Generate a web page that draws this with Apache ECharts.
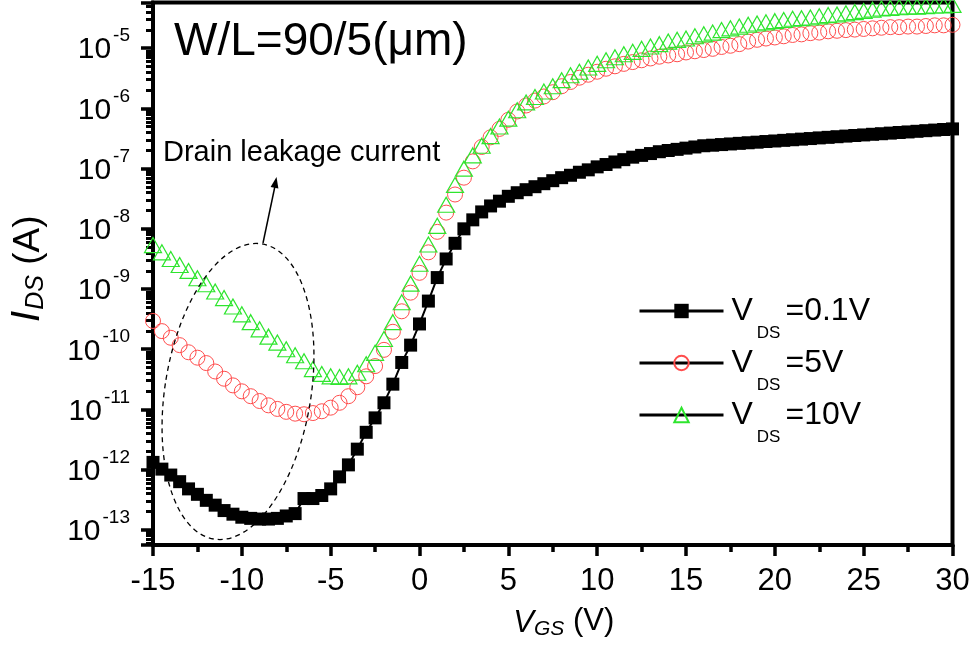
<!DOCTYPE html>
<html><head><meta charset="utf-8">
<script src="https://cdn.jsdelivr.net/npm/echarts@6/dist/echarts.min.js"></script>
<style>html,body{margin:0;padding:0;background:#fff}#c{width:980px;height:645px}</style>
</head><body><div id="c"></div>
<script>
// V_GS (V)
const vgs = [-15,-14.5,-14,-13.5,-13,-12.5,-12,-11.5,-11,-10.5,-10,-9.5,-9,-8.5,-8,-7.5,-7,-6.5,-6,-5.5,-5,-4.5,-4,-3.5,-3,-2.5,-2,-1.5,-1,-0.5,0,0.5,1,1.5,2,2.5,3,3.5,4,4.5,5,5.5,6,6.5,7,7.5,8,8.5,9,9.5,10,10.5,11,11.5,12,12.5,13,13.5,14,14.5,15,15.5,16,16.5,17,17.5,18,18.5,19,19.5,20,20.5,21,21.5,22,22.5,23,23.5,24,24.5,25,25.5,26,26.5,27,27.5,28,28.5,29,29.5,30];
// I_DS (A), V_DS = 0.1 V
const ids01 = [1.32e-12,1.02e-12,8.13e-13,6.31e-13,4.79e-13,3.89e-13,3.09e-13,2.57e-13,2.09e-13,1.82e-13,1.62e-13,1.55e-13,1.51e-13,1.51e-13,1.55e-13,1.70e-13,1.86e-13,3.31e-13,3.31e-13,3.72e-13,4.79e-13,7.59e-13,1.20e-12,2.19e-12,4.17e-12,7.24e-12,1.29e-11,2.63e-11,6.03e-11,1.17e-10,2.63e-10,6.31e-10,1.55e-9,3.16e-9,5.75e-9,1.00e-8,1.41e-8,1.91e-8,2.40e-8,2.88e-8,3.47e-8,3.98e-8,4.47e-8,5.01e-8,5.62e-8,6.31e-8,7.08e-8,7.76e-8,8.71e-8,9.55e-8,1.07e-7,1.17e-7,1.29e-7,1.41e-7,1.55e-7,1.66e-7,1.78e-7,1.91e-7,2.00e-7,2.09e-7,2.19e-7,2.29e-7,2.40e-7,2.45e-7,2.51e-7,2.57e-7,2.63e-7,2.69e-7,2.75e-7,2.82e-7,2.88e-7,2.95e-7,3.02e-7,3.09e-7,3.16e-7,3.24e-7,3.31e-7,3.39e-7,3.47e-7,3.55e-7,3.63e-7,3.72e-7,3.80e-7,3.89e-7,3.98e-7,4.07e-7,4.17e-7,4.27e-7,4.37e-7,4.47e-7,4.57e-7];
// I_DS (A), V_DS = 5 V
const ids5 = [2.95e-10,2.00e-10,1.55e-10,1.17e-10,8.91e-11,7.24e-11,5.89e-11,4.27e-11,3.24e-11,2.51e-11,2.00e-11,1.66e-11,1.38e-11,1.17e-11,1.02e-11,9.12e-12,8.51e-12,8.32e-12,8.71e-12,9.33e-12,1.07e-11,1.29e-11,1.66e-11,2.34e-11,3.55e-11,5.25e-11,9.77e-11,1.95e-10,4.27e-10,8.71e-10,1.86e-9,4.07e-9,8.91e-9,1.86e-8,3.72e-8,7.08e-8,1.32e-7,2.29e-7,3.31e-7,4.57e-7,6.46e-7,8.91e-7,1.12e-6,1.35e-6,1.58e-6,1.86e-6,2.34e-6,2.75e-6,3.24e-6,3.63e-6,4.07e-6,4.57e-6,5.01e-6,5.50e-6,5.89e-6,6.31e-6,6.76e-6,7.24e-6,7.59e-6,7.94e-6,8.51e-6,8.91e-6,9.33e-6,9.77e-6,1.05e-5,1.10e-5,1.17e-5,1.29e-5,1.38e-5,1.45e-5,1.51e-5,1.58e-5,1.66e-5,1.70e-5,1.78e-5,1.82e-5,1.91e-5,1.95e-5,2.00e-5,2.04e-5,2.09e-5,2.14e-5,2.19e-5,2.24e-5,2.24e-5,2.29e-5,2.29e-5,2.34e-5,2.40e-5,2.40e-5,2.45e-5];
// I_DS (A), V_DS = 10 V
const ids10 = [5.37e-9,4.07e-9,3.16e-9,2.51e-9,2.00e-9,1.51e-9,1.20e-9,9.12e-10,7.08e-10,5.13e-10,3.80e-10,2.82e-10,2.14e-10,1.62e-10,1.29e-10,1.00e-10,7.94e-11,6.31e-11,4.68e-11,3.89e-11,3.55e-11,3.47e-11,3.55e-11,4.07e-11,5.62e-11,8.71e-11,1.48e-10,2.82e-10,6.03e-10,1.23e-9,2.63e-9,5.50e-9,1.12e-8,2.51e-8,5.37e-8,1.00e-7,1.66e-7,2.40e-7,3.47e-7,5.01e-7,6.76e-7,9.33e-7,1.26e-6,1.55e-6,1.91e-6,2.34e-6,2.95e-6,3.55e-6,4.07e-6,4.79e-6,5.50e-6,6.31e-6,7.08e-6,7.94e-6,8.71e-6,9.77e-6,1.07e-5,1.17e-5,1.29e-5,1.38e-5,1.45e-5,1.58e-5,1.70e-5,1.82e-5,2.00e-5,2.14e-5,2.29e-5,2.45e-5,2.57e-5,2.69e-5,2.82e-5,2.95e-5,3.09e-5,3.16e-5,3.24e-5,3.39e-5,3.55e-5,3.63e-5,3.80e-5,3.98e-5,4.17e-5,4.37e-5,4.57e-5,4.68e-5,4.79e-5,4.90e-5,4.90e-5,5.01e-5,5.13e-5,5.13e-5,5.25e-5];

const seriesNames = ['VDS=0.1V', 'VDS=5V', 'VDS=10V'];
const legendValues = ['=0.1V', '=5V', '=10V'];
const xTicks = { min: -15, max: 30, step: 5 };
const yRange = { min: 5.6e-14, max: 5.75e-5 };
const titleText = 'W/L=90/5(μm)';
const noteText = 'Drain leakage current';

const FONT = '"Liberation Sans", Arial, Helvetica, sans-serif';
const pair = (ys) => vgs.map((x, i) => [x, ys[i]]);

const chart = echarts.init(document.getElementById('c'), null, { renderer: 'canvas' });

const option = {
  animation: false,
  backgroundColor: '#fff',
  textStyle: { fontFamily: FONT, color: '#000' },
  grid: { left: 149.5, right: 27.5, top: 2.5, bottom: 92, show: true, borderColor: '#000', borderWidth: 4, containLabel: false },
  title: {
    text: titleText, left: 174, top: 19, padding: 0,
    textStyle: { fontFamily: FONT, fontSize: 46, fontWeight: 'normal', color: '#000' }
  },
  legend: {
    orient: 'vertical', left: 638, top: 295, padding: 0, itemGap: 5,
    itemWidth: 84, itemHeight: 18, selectedMode: false,
    data: seriesNames,
    lineStyle: { color: '#000', width: 3, opacity: 1 },
    formatter: (name) => '{v|V}{s|DS}{e|' + legendValues[seriesNames.indexOf(name)] + '}',
    textStyle: {
      fontFamily: FONT, color: '#000', fontSize: 32,
      rich: {
        v: { fontFamily: FONT, fontSize: 32, verticalAlign: 'top', padding: [15, 0, 0, 3] },
        s: { fontFamily: FONT, fontSize: 17, verticalAlign: 'top', padding: [45, 5, 0, 4] },
        e: { fontFamily: FONT, fontSize: 32, verticalAlign: 'top', padding: [15, 0, 0, 0] }
      }
    }
  },
  xAxis: {
    type: 'value', min: xTicks.min, max: xTicks.max, interval: xTicks.step,
    name: 'V{s|GS}{b| (V)}', nameLocation: 'middle', nameGap: 61,
    nameTextStyle: {
      fontFamily: FONT, fontSize: 31, fontStyle: 'italic', color: '#000', padding: [0, 0, 0, 22],
      rich: {
        s: { fontFamily: FONT, fontSize: 21, fontStyle: 'italic', verticalAlign: 'top', padding: [13, 0, 0, 0] },
        b: { fontFamily: FONT, fontSize: 31, fontStyle: 'normal', verticalAlign: 'top' }
      },
      verticalAlign: 'top'
    },
    axisLine: { onZero: false, lineStyle: { color: '#000', width: 4 } },
    axisTick: { inside: false, length: 11, lineStyle: { color: '#000', width: 3.5 } },
    minorTick: { show: true, splitNumber: 2, length: 7, lineStyle: { color: '#000', width: 3.5 } },
    axisLabel: { fontFamily: FONT, fontSize: 31, color: '#000', margin: 21 },
    splitLine: { show: false }
  },
  yAxis: {
    type: 'log', logBase: 10, min: yRange.min, max: yRange.max, splitNumber: 10,
    name: '{i|I}{s|DS}{b| (A)}', nameLocation: 'middle', nameGap: 104, nameRotate: 90,
    nameTextStyle: {
      fontFamily: FONT, fontSize: 38, color: '#000', padding: [0, 0, 0, 10],
      rich: {
        i: { fontFamily: FONT, fontSize: 40, fontStyle: 'italic', verticalAlign: 'top', padding: [0, 0, 0, 0] },
        s: { fontFamily: FONT, fontSize: 25, fontStyle: 'italic', verticalAlign: 'top', padding: [16, 0, 0, 1] },
        b: { fontFamily: FONT, fontSize: 37, fontStyle: 'normal', verticalAlign: 'top', padding: [2, 0, 0, 0] }
      }
    },
    axisLine: { onZero: false, lineStyle: { color: '#000', width: 4 } },
    axisTick: { inside: false, length: 12, lineStyle: { color: '#000', width: 3.5 } },
    minorTick: { show: true, splitNumber: 9, length: 7, lineStyle: { color: '#000', width: 3 } },
    axisLabel: {
      fontFamily: FONT, color: '#000', margin: 23, showMinLabel: false, showMaxLabel: false,
      formatter: (v) => '{n|10}{p|' + Math.round(Math.log10(v)) + '}',
      rich: {
        n: { fontFamily: FONT, fontSize: 30, verticalAlign: 'top', padding: [8.5, 0, 0, 0] },
        p: { fontFamily: FONT, fontSize: 19, verticalAlign: 'top', padding: [0, 0, 24, 2] }
      }
    },
    splitLine: { show: false },
    minorSplitLine: { show: false }
  },
  series: [
    {
      name: seriesNames[0], type: 'line', data: pair(ids01), symbol: 'rect', symbolSize: 13,
      itemStyle: { color: '#000' }, lineStyle: { color: '#000', width: 2 }, z: 2
    },
    {
      name: seriesNames[1], type: 'line', data: pair(ids5), symbol: 'circle', symbolSize: 15,
      itemStyle: { color: 'rgba(255,255,255,0)', borderColor: '#ff4d4d', borderWidth: 1 },
      lineStyle: { color: '#000', width: 1.5, opacity: 0 }, z: 3
    },
    {
      name: seriesNames[2], type: 'line', data: pair(ids10), symbol: 'triangle', symbolSize: [17, 15],
      itemStyle: { color: 'rgba(255,255,255,0)', borderColor: '#2ee52e', borderWidth: 1.2 },
      lineStyle: { color: '#000', width: 1.5, opacity: 0 }, z: 4
    }
  ],
  graphic: [
    {
      type: 'ellipse', x: 238, y: 391.5, rotation: -0.161,
      shape: { cx: 0, cy: 0, rx: 73, ry: 149.5 },
      style: { fill: 'none', stroke: '#000', lineWidth: 1.3, lineDash: [5, 4] }, z: 10
    },
    {
      type: 'polyline', shape: { points: [[263, 243], [275, 186]] },
      style: { stroke: '#000', lineWidth: 1.5 }, z: 10
    },
    {
      type: 'polygon', shape: { points: [[276.5, 177], [278.4, 188.6], [270.6, 187.0]] },
      style: { fill: '#000' }, z: 10
    },
    {
      type: 'text', x: 163, y: 153,
      style: { text: noteText, fontFamily: FONT, fontSize: 29, fill: '#000', textVerticalAlign: 'middle' }, z: 10
    }
  ]
};
chart.setOption(option);
</script>
</body></html>
